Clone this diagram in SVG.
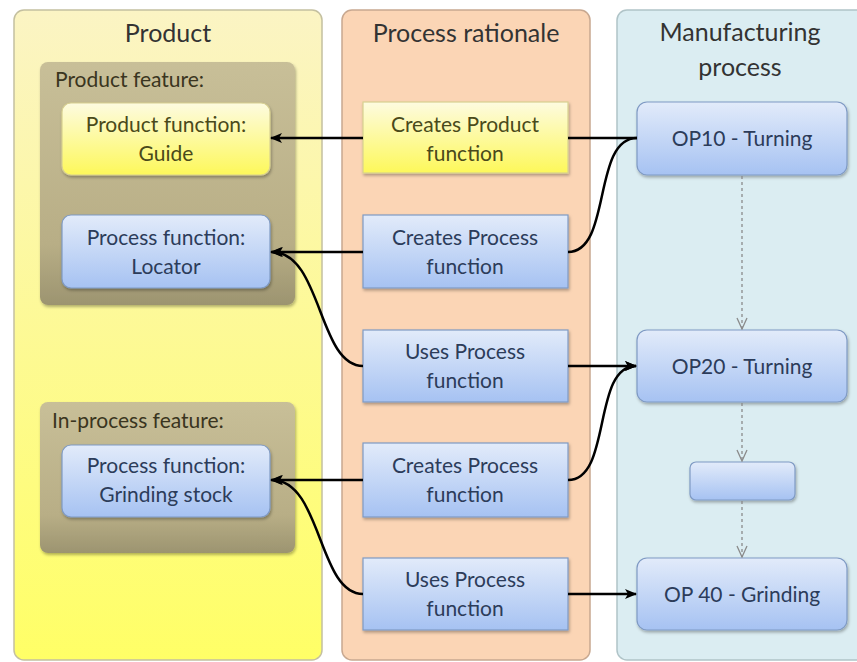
<svg xmlns="http://www.w3.org/2000/svg" width="857" height="662" viewBox="0 0 857 662">
<defs>
<linearGradient id="gProd" x1="0" y1="0" x2="0" y2="1"><stop offset="0" stop-color="#fbf4c4"/><stop offset="1" stop-color="#ffff66"/></linearGradient>
<linearGradient id="gFeat" x1="0" y1="0" x2="0" y2="1"><stop offset="0" stop-color="#c8bf98"/><stop offset="0.75" stop-color="#b8ae86"/><stop offset="1" stop-color="#9c9470"/></linearGradient>
<linearGradient id="gBlue" x1="0" y1="0" x2="0" y2="1"><stop offset="0" stop-color="#e2ebfa"/><stop offset="1" stop-color="#a6c2f2"/></linearGradient>
<linearGradient id="gYel" x1="0" y1="0" x2="0" y2="1"><stop offset="0" stop-color="#fdfbe0"/><stop offset="1" stop-color="#fdf85a"/></linearGradient>
<filter id="sh" x="-10%" y="-10%" width="125%" height="130%"><feDropShadow dx="1" dy="2" stdDeviation="1.5" flood-color="#000" flood-opacity="0.3"/></filter>
<marker id="arr" viewBox="0 0 12 10" refX="11" refY="5" markerWidth="12" markerHeight="10" markerUnits="userSpaceOnUse" orient="auto"><path d="M0,0 L12,5 L0,10 L3,5 Z" fill="#000"/></marker>
<marker id="varr" viewBox="0 0 12 14" refX="6" refY="13" markerWidth="12" markerHeight="14" markerUnits="userSpaceOnUse" orient="0"><path d="M1,2 L6,13 L11,2" fill="none" stroke="#8a8a8a" stroke-width="1.3"/></marker>
</defs>
<style>
.hdr{font-family:Lato,"Open Sans","Liberation Sans",sans-serif;font-size:25px;fill:#333;text-anchor:middle}
.feat{font-family:Lato,"Open Sans","Liberation Sans",sans-serif;font-size:21px;fill:#3a3520}
.bt{font-family:Lato,"Open Sans","Liberation Sans",sans-serif;font-size:21px;text-anchor:middle}
.bl{fill:#2c3c5a}
.yl{fill:#4a4a1a}
.bluebox{fill:url(#gBlue);stroke:#7f9ac4;stroke-width:1.2}
.yelbox{fill:url(#gYel);stroke:#d8d090;stroke-width:1.2}
.featbox{fill:url(#gFeat)}
.con{fill:none;stroke:#000;stroke-width:2.5}
.dash{fill:none;stroke:#8a8a8a;stroke-width:1.3;stroke-dasharray:3,3}
</style>
<rect x="0" y="0" width="857" height="662" fill="#fff"/>
<g id="col-product">
<rect x="14" y="10" width="308" height="650" rx="10" fill="url(#gProd)" stroke="#c4c0a0" stroke-width="1.5"/>
<text class="hdr" x="168" y="42">Product</text>
</g>
<g id="col-rationale">
<rect x="342" y="10" width="248" height="650" rx="10" fill="#fbd5b5" stroke="#c8a890" stroke-width="1.5"/>
<text class="hdr" x="466" y="42">Process rationale</text>
</g>
<g id="col-manufacturing">
<rect x="617" y="10" width="250" height="650" rx="10" fill="#dbedf2" stroke="#b0c4c8" stroke-width="1.5"/>
<text class="hdr" x="740" y="41">Manufacturing</text>
<text class="hdr" x="740" y="76">process</text>
</g>
<g id="product-feature">
<rect class="featbox" x="40" y="62" width="255" height="243" rx="8" filter="url(#sh)"/>
<text class="feat" x="55" y="87">Product feature:</text>
</g>
<g id="inprocess-feature">
<rect class="featbox" x="40" y="402" width="255" height="151" rx="8" filter="url(#sh)"/>
<text class="feat" x="52" y="428">In-process  feature:</text>
</g>
<g id="guide">
<rect class="yelbox" x="62" y="103" width="208" height="72" rx="9" filter="url(#sh)"/>
<text class="bt yl" x="166" y="132">Product function:</text>
<text class="bt yl" x="166" y="161">Guide</text>
</g>
<g id="locator">
<rect class="bluebox" x="62" y="215" width="208" height="73" rx="9" filter="url(#sh)"/>
<text class="bt bl" x="166" y="245">Process function:</text>
<text class="bt bl" x="166" y="274">Locator</text>
</g>
<g id="grinding-stock">
<rect class="bluebox" x="62" y="445" width="208" height="72" rx="9" filter="url(#sh)"/>
<text class="bt bl" x="166" y="473">Process function:</text>
<text class="bt bl" x="166" y="502">Grinding stock</text>
</g>
<g id="creates-product">
<rect class="yelbox" x="363" y="102" width="205" height="71" filter="url(#sh)"/>
<text class="bt yl" x="465" y="132">Creates Product</text>
<text class="bt yl" x="465" y="161">function</text>
</g>
<g id="creates-process-1">
<rect class="bluebox" x="363" y="215" width="205" height="73" filter="url(#sh)"/>
<text class="bt bl" x="465" y="245">Creates Process</text>
<text class="bt bl" x="465" y="274">function</text>
</g>
<g id="uses-process-1">
<rect class="bluebox" x="363" y="330" width="205" height="72" filter="url(#sh)"/>
<text class="bt bl" x="465" y="359">Uses Process</text>
<text class="bt bl" x="465" y="388">function</text>
</g>
<g id="creates-process-2">
<rect class="bluebox" x="363" y="443" width="205" height="74" filter="url(#sh)"/>
<text class="bt bl" x="465" y="473">Creates Process</text>
<text class="bt bl" x="465" y="502">function</text>
</g>
<g id="uses-process-2">
<rect class="bluebox" x="363" y="558" width="205" height="72" filter="url(#sh)"/>
<text class="bt bl" x="465" y="587">Uses Process</text>
<text class="bt bl" x="465" y="616">function</text>
</g>
<g id="op10">
<rect class="bluebox" x="637" y="102" width="210" height="73" rx="10" filter="url(#sh)"/>
<text class="bt bl" x="742" y="146">OP10 - Turning</text>
</g>
<g id="op20">
<rect class="bluebox" x="637" y="330" width="210" height="72" rx="10" filter="url(#sh)"/>
<text class="bt bl" x="742" y="374">OP20 - Turning</text>
</g>
<g id="op30">
<rect class="bluebox" x="690" y="462" width="105" height="38" rx="6" filter="url(#sh)"/>
</g>
<g id="op40">
<rect class="bluebox" x="637" y="558" width="210" height="72" rx="10" filter="url(#sh)"/>
<text class="bt bl" x="742" y="602">OP 40 - Grinding</text>
</g>
<g id="connectors">
<path class="con" d="M363,138 L271,138" marker-end="url(#arr)"/>
<path class="con" d="M363,252 L271,252" marker-end="url(#arr)"/>
<path class="con" d="M363,366 C318,366 322,252 272,252" marker-end="url(#arr)"/>
<path class="con" d="M363,480 L271,480" marker-end="url(#arr)"/>
<path class="con" d="M363,594 C318,594 322,480 272,480" marker-end="url(#arr)"/>
<path class="con" d="M568,138 L637,138"/>
<path class="con" d="M568,252 C612,252 592,138 637,138"/>
<path class="con" d="M568,366 L636,366" marker-end="url(#arr)"/>
<path class="con" d="M568,480 C612,480 592,366 636,366" marker-end="url(#arr)"/>
<path class="con" d="M568,594 L636,594" marker-end="url(#arr)"/>
<path class="dash" d="M742,176 L742,329" marker-end="url(#varr)"/>
<path class="dash" d="M742,403 L742,461" marker-end="url(#varr)"/>
<path class="dash" d="M742,501 L742,557" marker-end="url(#varr)"/>
</g>
</svg>
